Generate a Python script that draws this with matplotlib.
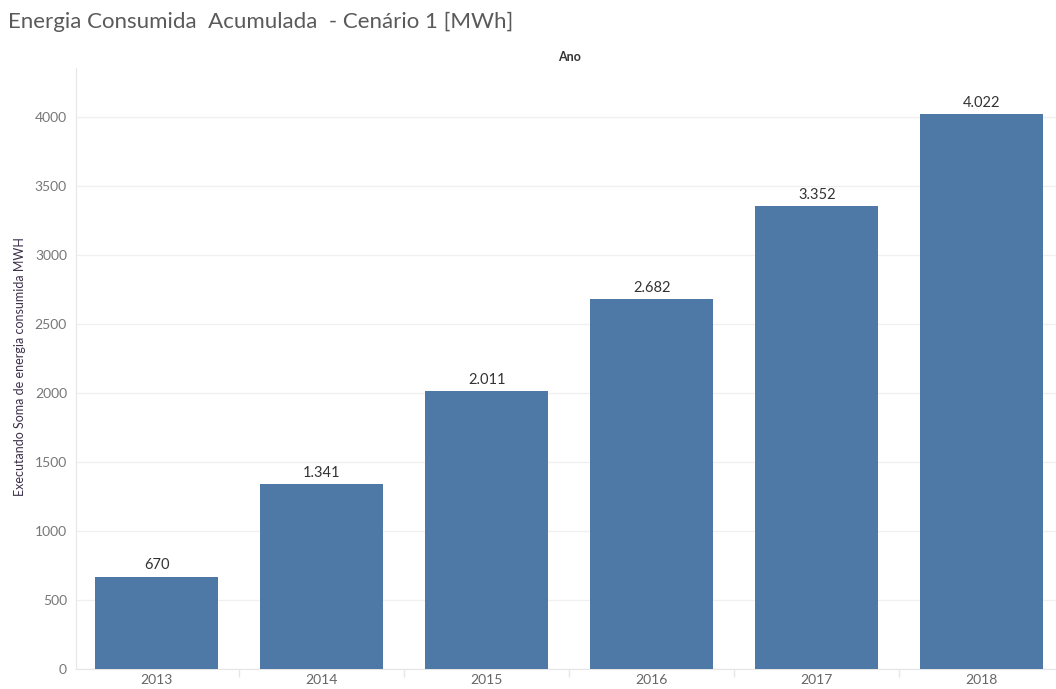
import matplotlib
matplotlib.use("Agg")
import matplotlib.pyplot as plt
from matplotlib.ticker import FixedLocator

plt.rcParams['font.family'] = ['Lato', 'DejaVu Sans']

anos = ['2013', '2014', '2015', '2016', '2017', '2018']
energia_acumulada = [670, 1341, 2011, 2682, 3352, 4022]
rotulos = ['670', '1.341', '2.011', '2.682', '3.352', '4.022']
y_ticks = [0, 500, 1000, 1500, 2000, 2500, 3000, 3500, 4000]

W, H = 1056, 689
fig = plt.figure(figsize=(W / 100, H / 100), dpi=100)
ax = fig.add_axes([76 / W, (H - 669) / H, (W - 76) / W, (669 - 68) / H])

x = list(range(len(anos)))
ax.bar(x, energia_acumulada, width=0.745, color='#4e79a7', zorder=3)

for xi, v, lab in zip(x, energia_acumulada, rotulos):
    ax.annotate(lab, (xi, v), xytext=(0, 3), textcoords='offset points',
                ha='center', va='bottom', fontsize=10.5, color='#333333')

ax.set_xlim(-0.49, 5.45)
ax.set_ylim(0, 4355)

ax.set_yticks(y_ticks)
ax.set_yticklabels([str(t) for t in y_ticks])
ax.grid(axis='y', color='#f0f0f0', linewidth=1, zorder=0)

ax.set_xticks(x)
ax.set_xticklabels(anos)
ax.xaxis.set_minor_locator(FixedLocator([i + 0.5 for i in range(-1, len(anos))]))
ax.tick_params(axis='x', which='major', length=0, pad=3.5, labelsize=10, labelcolor='#666666')
ax.tick_params(axis='x', which='minor', length=6, color='#e6e6e6', width=1)
ax.tick_params(axis='y', length=0, pad=6.5, labelsize=10, labelcolor='#777777')

for s in ['top', 'right']:
    ax.spines[s].set_visible(False)
ax.spines['left'].set_color('#e6e6e6')
ax.spines['bottom'].set_color('#e6e6e6')

fig.text(20 / W, 1 - 367 / H, 'Executando Soma de energia consumida MWH', rotation=90,
         ha='center', va='center', fontsize=9, color='#3b2f4a')
fig.text(570 / W, 1 - 57 / H, 'Ano', ha='center', va='center', fontsize=9,
         fontweight='bold', color='#333333')
fig.text(8 / W, 1 - 22 / H, 'Energia Consumida  Acumulada  - Cenário 1 [MWh]',
         ha='left', va='center', fontsize=16, color='#5a5a5a')

fig.savefig('out.png', dpi=100)
